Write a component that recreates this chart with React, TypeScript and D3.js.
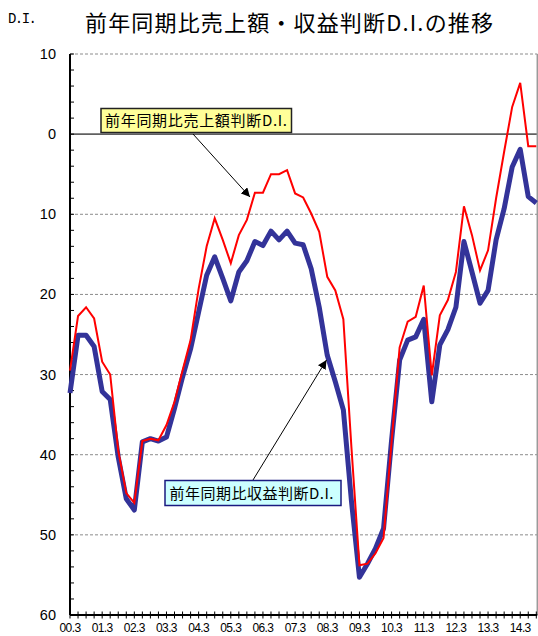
import React from "react";
import * as d3 from "d3";

const quarterLabels = ["00.3","01.3","02.3","03.3","04.3","05.3","06.3","07.3","08.3","09.3","10.3","11.3","12.3","13.3","14.3"];
const yTicks = [10, 0, -10, -20, -30, -40, -50, -60];

const salesDI = [
  -29.5, -22.7, -21.6, -23.0, -28.4, -30.0, -39.5, -44.8, -46.0, -38.3,
  -38.0, -38.2, -36.3, -33.4, -29.5, -25.7, -19.3, -14.0, -10.5, -13.2,
  -16.1, -12.6, -10.7, -7.3, -7.3, -5.0, -5.0, -4.5, -7.4, -7.9,
  -9.9, -12.2, -17.8, -19.5, -23.1, -39.0, -53.8, -53.6, -52.3, -50.4,
  -38.4, -26.6, -23.4, -22.8, -18.9, -30.1, -22.6, -20.7, -17.2, -9.0,
  -12.6, -17.0, -14.5, -8.0, -2.2, 3.4, 6.4, -1.5, -1.5
];
const profitDI = [
  -32.3, -25.1, -25.1, -26.5, -32.1, -33.1, -40.3, -45.5, -46.9, -38.4,
  -38.0, -38.3, -37.8, -34.2, -30.3, -26.8, -22.2, -17.6, -15.3, -18.0,
  -20.8, -17.2, -15.8, -13.4, -13.9, -12.1, -13.2, -12.1, -13.6, -13.8,
  -16.8, -21.6, -27.6, -30.9, -34.4, -45.7, -55.3, -53.6, -51.7, -49.2,
  -38.2, -28.2, -25.7, -25.3, -23.1, -33.4, -26.3, -24.4, -21.6, -13.4,
  -17.2, -21.1, -19.5, -13.2, -9.3, -4.1, -1.9, -7.8, -8.6
];

const title = "前年同期比売上額・収益判断D.I.の推移";
const salesLabel = "前年同期比売上額判断D.I.";
const profitLabel = "前年同期比収益判断D.I.";

export default function App() {
  const W = 538, H = 636;
  const left = 70, right = 536.3, top = 54, bottom = 615;
  const n = salesDI.length;
  const x = d3.scaleLinear().domain([0, n - 1]).range([left, right]);
  const y = d3.scaleLinear().domain([-60, 10]).range([bottom, top]);
  const line = d3.line<number>().x((_, i) => x(i)).y((d) => y(d));
  const minor = d3.range(-60, 10.001, 2);
  const jp = "'Noto Sans CJK JP', sans-serif";
  const num = "'Liberation Sans', Arial, sans-serif";

  return (
    <svg width={W} height={H} style={{ position: "absolute", left: 0, top: 0, background: "#fff" }}
      fontFamily={jp}>
      <defs>
        <marker id="ah" viewBox="0 0 10 10" refX="10" refY="5" markerWidth="9" markerHeight="9"
          markerUnits="userSpaceOnUse" orient="auto">
          <path d="M0,0 L10,5 L0,10 z" fill="#000" />
        </marker>
      </defs>
      <rect x={0} y={0} width={W} height={H} fill="#fff" />
      <text x={8} y={23} fontSize={14} fontFamily="'Liberation Mono', monospace" textLength={29} lengthAdjust="spacing">D.I.</text>
      <text x={85} y={31} fontSize={22} textLength={408} lengthAdjust="spacing">{title}</text>

      {/* grid */}
      {yTicks.filter((v) => v !== 0 && v !== -60).map((v) => (
        <line key={v} x1={left} x2={right + 1} y1={y(v)} y2={y(v)} stroke="#8c8c8c" strokeWidth={1} strokeDasharray="3,2" />
      ))}
      <line x1={left} x2={right + 1} y1={y(0)} y2={y(0)} stroke="#606060" strokeWidth={1.8} />
      <line x1={right + 1} x2={right + 1} y1={top} y2={bottom} stroke="#9a9a9a" strokeWidth={1.5} />

      {/* y axis */}
      <line x1={left} x2={left} y1={top} y2={bottom} stroke="#000" strokeWidth={2} />
      {minor.map((v) => (
        <line key={v} x1={left} x2={left + 4} y1={y(v)} y2={y(v)} stroke="#000" strokeWidth={1} />
      ))}
      {yTicks.map((v) => (
        <text key={v} x={56} y={y(v) + 5} fontSize={14.5} fontFamily={num} textAnchor="end">{Math.abs(v)}</text>
      ))}

      {/* x axis */}
      <line x1={left} x2={right + 1} y1={bottom} y2={bottom} stroke="#000" strokeWidth={2} />
      {d3.range(0, n).map((i) => (
        <line key={i} x1={x(i)} x2={x(i)} y1={bottom - 3.5} y2={bottom + 3.5} stroke="#000" strokeWidth={1} />
      ))}
      {quarterLabels.map((l, k) => (
        <text key={l} x={x(k * 4)} y={632} fontSize={12} fontFamily={num} textAnchor="middle" letterSpacing={-0.6}>{l}</text>
      ))}

      {/* series */}
      <path d={line(profitDI) || ""} fill="none" stroke="#333399" strokeWidth={5} strokeLinejoin="round" />
      <path d={line(salesDI) || ""} fill="none" stroke="#ff0000" strokeWidth={2} strokeLinejoin="miter" />

      {/* annotations */}
      <line x1={193} y1={134} x2={250} y2={197} stroke="#000" strokeWidth={1} markerEnd="url(#ah)" />
      <rect x={101} y={108.5} width={190.5} height={24} fill="#ffff99" stroke="#222" strokeWidth={1.5} />
      <text x={105} y={126} fontSize={15} textLength={182} lengthAdjust="spacing">{salesLabel}</text>

      <line x1={253} y1={480} x2={326.5} y2={360} stroke="#000" strokeWidth={1} markerEnd="url(#ah)" />
      <rect x={165} y={480.5} width={176} height={25} fill="#ccffff" stroke="#1a1a80" strokeWidth={1.5} />
      <text x={169.5} y={498.5} fontSize={15} textLength={164} lengthAdjust="spacing">{profitLabel}</text>
    </svg>
  );
}
